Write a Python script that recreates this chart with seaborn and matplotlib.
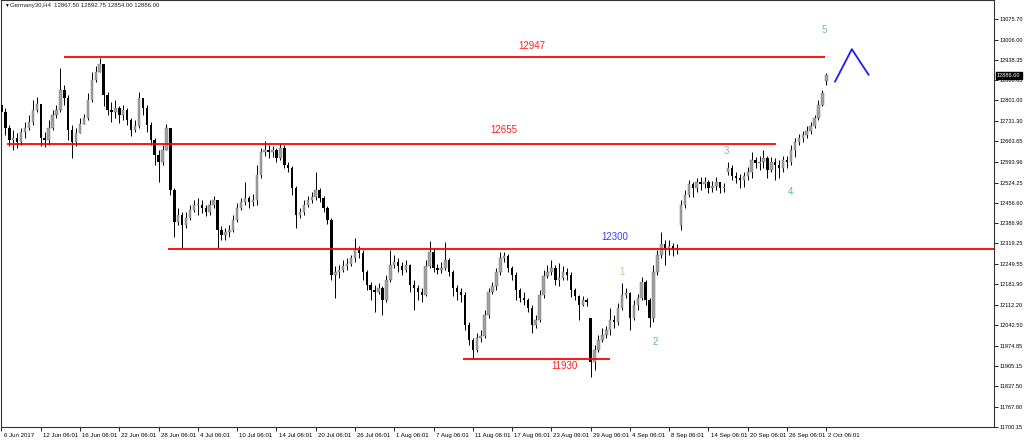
import matplotlib
matplotlib.use("Agg")
import matplotlib.pyplot as plt
from matplotlib.transforms import ScaledTranslation, blended_transform_factory
import seaborn as sns
import numpy as np

# Germany30 H4 candles (one bar per slot)
first_open = 12786
gap_opens = {150: 12068, 173: 12381, 185: 12560, 210: 12867.5}

closes = [
    12762, 12708, 12668, 12675, 12661, 12695, 12708, 12728, 12769, 12789,
    12675, 12668, 12708, 12752, 12769, 12836, 12809, 12702, 12661, 12691,
    12722, 12742, 12803, 12870, 12897, 12924, 12820, 12769, 12762, 12776,
    12752, 12769, 12735, 12702, 12715, 12809, 12776, 12718, 12668, 12617,
    12594, 12634, 12708, 12499, 12391, 12415, 12381, 12405, 12432, 12449,
    12449, 12439, 12425, 12449, 12466, 12364, 12348, 12358, 12364, 12398,
    12439, 12459, 12472, 12459, 12466, 12550, 12627, 12634, 12627, 12634,
    12607, 12641, 12584, 12573, 12506, 12415, 12425, 12449, 12466, 12476,
    12499, 12472, 12439, 12398, 12213, 12223, 12230, 12243, 12250, 12270,
    12297, 12287, 12223, 12179, 12162, 12155, 12169, 12128, 12196, 12246,
    12257, 12243, 12230, 12246, 12179, 12169, 12155, 12145, 12243, 12290,
    12236, 12230, 12236, 12263, 12223, 12169, 12155, 12145, 12044, 11994,
    11960, 12000, 12007, 12078, 12155, 12176, 12223, 12270, 12277, 12236,
    12213, 12162, 12135, 12128, 12101, 12044, 12061, 12145, 12209, 12223,
    12236, 12196, 12203, 12223, 12213, 12162, 12142, 12112, 12128, 12122,
    11919, 11960, 11994, 12010, 12027, 12061, 12054, 12101, 12145, 12152,
    12068, 12112, 12135, 12189, 12128, 12068, 12223, 12280, 12317, 12304,
    12310, 12297, 12304, 12449, 12482, 12519, 12506, 12526, 12519, 12526,
    12506, 12513, 12526, 12506, 12509, 12573, 12546, 12540, 12533, 12546,
    12560, 12600, 12590, 12594, 12607, 12567, 12594, 12584, 12573, 12600,
    12594, 12634, 12661, 12675, 12685, 12698, 12715, 12742, 12786, 12826,
    12886,
]

highs = [
    12803, 12776, 12718, 12702, 12691, 12708, 12728, 12752, 12803, 12813,
    12789, 12695, 12735, 12769, 12786, 12911, 12853, 12820, 12718, 12708,
    12742, 12755, 12826, 12897, 12917, 12944, 12924, 12830, 12796, 12803,
    12782, 12786, 12776, 12742, 12735, 12830, 12809, 12786, 12728, 12675,
    12634, 12651, 12722, 12708, 12506, 12439, 12425, 12425, 12449, 12466,
    12472, 12466, 12449, 12466, 12479, 12466, 12378, 12371, 12381, 12415,
    12455, 12472, 12526, 12479, 12486, 12584, 12641, 12664, 12651, 12648,
    12641, 12658, 12651, 12594, 12580, 12513, 12439, 12466, 12479, 12493,
    12560, 12506, 12479, 12445, 12405, 12243, 12246, 12263, 12270, 12280,
    12337, 12310, 12297, 12230, 12189, 12179, 12186, 12176, 12213, 12297,
    12280, 12270, 12257, 12263, 12250, 12196, 12179, 12169, 12263, 12327,
    12304, 12250, 12257, 12324, 12270, 12230, 12179, 12169, 12155, 12054,
    12000, 12017, 12027, 12095, 12169, 12189, 12236, 12290, 12290, 12284,
    12243, 12223, 12169, 12155, 12135, 12112, 12078, 12162, 12230, 12246,
    12263, 12246, 12253, 12243, 12236, 12223, 12169, 12145, 12142, 12135,
    12068, 11977, 12010, 12034, 12041, 12101, 12078, 12118, 12186, 12169,
    12155, 12128, 12149, 12206, 12196, 12135, 12246, 12297, 12358, 12331,
    12331, 12321, 12317, 12466, 12499, 12533, 12526, 12540, 12543, 12543,
    12533, 12530, 12543, 12526, 12523, 12594, 12584, 12560, 12553, 12560,
    12577, 12627, 12611, 12614, 12634, 12614, 12611, 12607, 12600, 12614,
    12614, 12651, 12675, 12688, 12698, 12715, 12728, 12752, 12803, 12836,
    12892.75,
]

lows = [
    12752, 12685, 12648, 12634, 12641, 12651, 12675, 12702, 12718, 12762,
    12648, 12644, 12651, 12702, 12742, 12762, 12786, 12668, 12607, 12648,
    12702, 12722, 12735, 12796, 12863, 12897, 12782, 12752, 12728, 12742,
    12725, 12735, 12718, 12681, 12695, 12708, 12752, 12695, 12651, 12584,
    12526, 12584, 12634, 12482, 12341, 12381, 12304, 12371, 12398, 12425,
    12415, 12422, 12412, 12415, 12439, 12304, 12331, 12331, 12341, 12358,
    12391, 12432, 12449, 12439, 12445, 12449, 12540, 12614, 12607, 12611,
    12594, 12600, 12573, 12560, 12482, 12371, 12405, 12415, 12442, 12455,
    12466, 12459, 12425, 12385, 12196, 12135, 12203, 12223, 12230, 12243,
    12257, 12270, 12196, 12162, 12128, 12088, 12149, 12078, 12122, 12189,
    12236, 12223, 12213, 12223, 12155, 12095, 12128, 12122, 12142, 12236,
    12223, 12216, 12219, 12230, 12209, 12142, 12128, 12122, 12027, 11977,
    11933, 11953, 11987, 12000, 12068, 12149, 12162, 12213, 12257, 12223,
    12196, 12128, 12122, 12112, 12088, 12017, 12034, 12054, 12135, 12203,
    12213, 12179, 12176, 12196, 12196, 12139, 12128, 12061, 12108, 12108,
    11869, 11892, 11953, 11987, 12000, 12010, 12034, 12044, 12095, 12135,
    12027, 12061, 12095, 12128, 12112, 12037, 12054, 12213, 12270, 12246,
    12280, 12277, 12284, 12364, 12439, 12476, 12476, 12493, 12499, 12506,
    12489, 12493, 12499, 12489, 12493, 12550, 12533, 12523, 12506, 12509,
    12533, 12540, 12573, 12567, 12573, 12540, 12560, 12533, 12540, 12560,
    12573, 12584, 12611, 12651, 12661, 12675, 12688, 12708, 12735, 12782,
    12854,
]

date_labels = ["6 Jun 2017", "12 Jun 06:01", "16 Jun 06:01", "22 Jun 06:01",
               "28 Jun 06:01", "4 Jul 06:01", "10 Jul 06:01", "14 Jul 06:01",
               "20 Jul 06:01", "26 Jul 06:01", "1 Aug 06:01", "7 Aug 06:01",
               "11 Aug 06:01", "17 Aug 06:01", "23 Aug 06:01", "29 Aug 06:01",
               "4 Sep 06:01", "8 Sep 06:01", "14 Sep 06:01", "20 Sep 06:01",
               "26 Sep 06:01", "2 Oct 06:01"]
price_ticks = [13075.70, 13006.00, 12938.35, 12868.65, 12801.00, 12731.30,
               12663.65, 12593.96, 12524.25, 12456.60, 12386.90, 12319.25,
               12249.55, 12181.90, 12112.20, 12042.50, 11974.85, 11905.15,
               11837.50, 11767.80, 11700.15]

# level lines: price, start bar, end bar, label, label bar, label price, colour
levels = [
    (12947, 16.0, 209.7, "12947", 134.9, 12985, "#ff2020"),
    (12655, 1.3, 197.2, "12655", 128.0, 12702, "#ff2020"),
    (12300, 42.5, 253.0, "12300", 156.2, 12341, "#3b3bff"),
    (11930, 117.6, 155.0, "11930", 143.3, 11907, "#ff2020"),
]
wave_labels = ["1", "2", "3", "4", "5"]
wave_x = [158.0, 166.4, 184.5, 200.8, 209.4]
wave_y = [12224, 11987, 12632, 12493, 13039]
wave_colors = ["#a6d38a", "#5cbf7f", "#6cc59a", "#5cbf7f", "#6cc59a"]
zig_x = [212.2, 216.5, 220.8]
zig_y = [12864, 12974, 12887]

sns.set_theme(style="white")
plt.rcParams["font.family"] = ["Liberation Sans", "DejaVu Sans"]

fig = plt.figure(figsize=(10.24, 4.41), dpi=100)
ax = fig.add_axes([0.0005, 14 / 441, 993.5 / 1024, 427 / 441])

n = len(closes)
x = np.arange(n)
opens = np.array([first_open] + closes[:-1], dtype=float)
for k, v in gap_opens.items():
    opens[k] = v
c = np.array(closes, dtype=float)
hi = np.maximum(np.array(highs, dtype=float), np.maximum(opens, c))
lo = np.minimum(np.array(lows, dtype=float), np.minimum(opens, c))

up = c >= opens
ax.vlines(x, lo, hi, color="black", lw=0.7, zorder=2)
bottom = np.minimum(opens, c)
height = np.maximum(np.abs(c - opens), 3)
ax.bar(x[up], height[up], bottom=bottom[up], width=0.62, color="#a3a3a3",
       edgecolor="#6e6e6e", linewidth=0.3, zorder=3)
ax.bar(x[~up], height[~up], bottom=bottom[~up], width=0.62, color="black",
       linewidth=0, zorder=3)

for price, x0, x1, txt, tx, ty, col in levels:
    ax.hlines(price, x0, x1, color="#ff0000", lw=1.3, zorder=4)
    ax.text(tx, ty, txt, color=col, fontsize=7, ha="center", va="center")

for lab, wx, wy, col in zip(wave_labels, wave_x, wave_y, wave_colors):
    ax.text(wx, wy, lab, color=col, fontsize=7, ha="center", va="center")

sns.lineplot(x=zig_x, y=zig_y, sort=False, color="#1a1aff", lw=1.3, ax=ax)

ax.set_xlim(-0.25, 252.7)
ax.set_ylim(11700.15, 13139.75)

ax.yaxis.tick_right()
ax.set_yticks(price_ticks)
ax.set_yticklabels([f"{p:.2f}" for p in price_ticks])
ax.tick_params(axis="y", direction="out", length=3, width=0.6, pad=1.2,
               labelsize=4.1, colors="black", right=True, left=False)

ax.set_xticks(np.arange(0, 211, 10))
ax.set_xticklabels(date_labels)
ax.tick_params(axis="x", direction="out", length=3, width=0.6, pad=1,
               labelsize=4.4, colors="black", bottom=True)
shift = ScaledTranslation(1.5 / 72, 0, fig.dpi_scale_trans)
for lab in ax.get_xticklabels():
    lab.set_horizontalalignment("left")
    lab.set_transform(lab.get_transform() + shift)

for sp in ax.spines.values():
    sp.set_color("#333333")
    sp.set_linewidth(0.8)

# current price box on the price scale
trans = blended_transform_factory(ax.transAxes, ax.transData)
ax.text(1.003, 12886, "12886.00", transform=trans, color="white", fontsize=4.1,
        ha="left", va="center", zorder=10, clip_on=False,
        bbox=dict(boxstyle="square,pad=0.2", fc="black", ec="black"))

ax.text(0.004, 0.988, "\u25bc", transform=ax.transAxes, fontsize=3.5,
        ha="left", va="center", color="black")
ax.text(0.010, 0.988, "Germany30,H4  12867.50 12892.75 12854.00 12886.00",
        transform=ax.transAxes, fontsize=4.3, ha="left", va="center",
        color="#222222")

ax.set_xlabel("")
ax.set_ylabel("")
fig.savefig("out.png", dpi=100)
